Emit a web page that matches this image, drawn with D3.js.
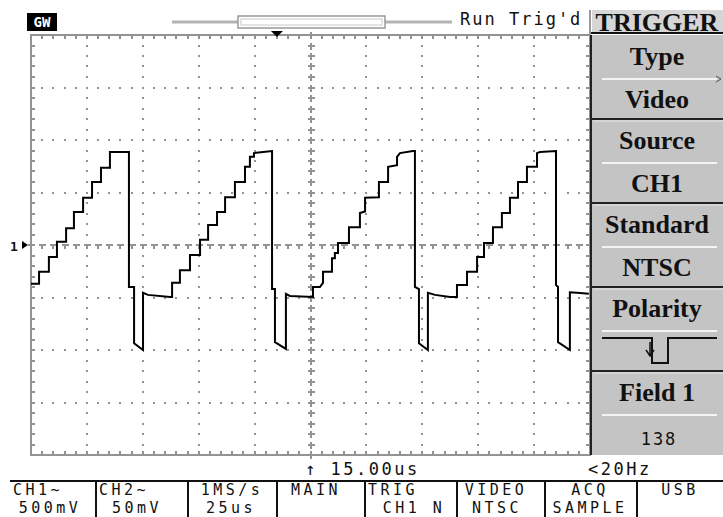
<!DOCTYPE html>
<html>
<head>
<meta charset="utf-8">
<script src="https://cdn.jsdelivr.net/npm/d3@7"></script>
<style>
  body { margin: 0; background: #fff; }
  svg { display: block; }
  .mono { font-family: 'DejaVu Sans Mono', monospace; fill: #111; }
  .menu { font-family: 'Liberation Serif', serif; font-weight: bold; fill: #111; }
</style>
</head>
<body>
<div id="chart"></div>
<script>

// CH1 trace: time in us (0 = left edge), level in mV
var timeUs = [
  0, 3.6, 3.6, 8.0, 8.0, 11.6, 11.6, 15.7, 15.7, 19.2, 19.2, 23.3, 23.3, 27.3, 27.3, 31.3, 31.3, 35.3, 35.3, 43.8,
  43.8, 46.1, 46.1, 50.1, 50.1, 52.3, 62.2, 63.1,
  63.1, 66.6, 66.6, 71.1, 71.1, 75.6, 75.6, 79.2, 79.2, 83.2, 83.2, 86.8, 86.8, 91.2, 91.2, 95.7, 95.7, 97.9, 97.9, 99.7, 99.7, 103.8, 107.8,
  107.8, 109.1, 109.1, 114.0, 114.0, 115.8, 126.1,
  126.1, 129.2, 130.6, 130.6, 134.6, 134.6, 135.9, 135.9, 137.3, 137.3, 142.2, 142.2, 147.1, 147.1, 149.4, 149.4, 155.6, 155.6, 159.7, 159.7, 163.7, 163.7, 165.0, 170.8, 171.7,
  171.7, 173.5, 173.5, 177.5, 177.5, 180.7, 187.4, 190.5,
  190.5, 195.0, 195.0, 199.5, 199.5, 202.6, 202.6, 206.6, 206.6, 210.6, 210.6, 214.2, 214.2, 217.8, 217.8, 221.8, 221.8, 226.3, 226.3, 227.6, 234.8,
  234.8, 235.7, 235.7, 241.0, 241.0, 244.2, 249.5
];
var ch1mV = [
  -370, -370, -255, -255, -115, -115, 30, 30, 160, 160, 315, 315, 450, 450, 600, 600, 735, 735, 885, 885,
  -400, -400, -935, -1000, -455, -475, -495, -495,
  -360, -360, -240, -240, -95, -95, 50, 50, 190, 190, 315, 315, 455, 455, 600, 600, 745, 745, 840, 840, 875, 885, 895,
  -420, -420, -925, -990, -465, -485, -495,
  -400, -400, -360, -255, -255, -125, -125, -75, -75, 20, 20, 170, 170, 305, 320, 450, 455, 600, 600, 745, 760, 840, 875, 895, 895,
  -400, -420, -935, -1000, -455, -475, -495, -495,
  -380, -380, -255, -255, -115, -115, 20, 20, 170, 170, 305, 305, 450, 450, 600, 600, 745, 745, 875, 885, 895,
  -380, -400, -925, -1000, -450, -455, -465
];

// Screen settings
var usPerDiv = 25, mVPerDiv = 500;
var hDivs = 10, vDivs = 8;
var trigDelayUs = 15;

// Menu and status bar texts
var menuTitles = ['Type', 'Source', 'Standard', 'Polarity', 'Field 1'];
var menuValues = ['Video', 'CH1', 'NTSC', '', '138'];
var statusTop = ['CH1~', 'CH2~', '1MS/s', 'MAIN', 'TRIG', 'VIDEO', 'ACQ', 'USB'];
var statusBottom = ['500mV', '50mV', '25us', '', 'CH1 N', 'NTSC', 'SAMPLE', ''];

var width = 723, height = 517;
var plot = {left: 31, right: 590, top: 35, bottom: 455};

// Define scales
var xScale = d3.scaleLinear().domain([0, hDivs * usPerDiv]).range([plot.left, plot.right]);
var yScale = d3.scaleLinear().domain([-vDivs / 2 * mVPerDiv, vDivs / 2 * mVPerDiv]).range([plot.bottom, plot.top]);

var svg = d3.select('#chart').append('svg')
    .attr('width', width)
    .attr('height', height);

var gridColor = '#939393';
var tMax = hDivs * usPerDiv, vMax = vDivs / 2 * mVPerDiv, tMid = tMax / 2;

// Major and minor (1/5 div) positions
var divT = d3.range(0, tMax + 0.01, usPerDiv);
var divV = d3.range(-vMax, vMax + 0.01, mVPerDiv);
var minorT = d3.range(0, tMax + 0.01, usPerDiv / 5);
var minorV = d3.range(-vMax, vMax + 0.01, mVPerDiv / 5);

var grid = svg.append('g').attr('class', 'grid');

// Dotted division lines
var dots = d3.cross(divT.filter(function(t) { return t > 0 && t < tMax && t !== tMid; }), minorV)
  .concat(d3.cross(minorT, divV.filter(function(v) { return v > -vMax && v < vMax && v !== 0; })));
grid.selectAll('rect.dot')
    .data(dots)
    .join('rect')
    .attr('class', 'dot')
    .attr('x', function(d) { return Math.round(xScale(d[0])) - 1; })
    .attr('y', function(d) { return Math.round(yScale(d[1])) - 1; })
    .attr('width', 2)
    .attr('height', 2)
    .attr('fill', gridColor);

// Centre vertical: row of crosses
var cx = Math.round(xScale(tMid));
minorV.forEach(function(v) {
  var y = Math.round(yScale(v));
  grid.append('line').attr('x1', cx - 3).attr('x2', cx + 4).attr('y1', y).attr('y2', y)
      .attr('stroke', gridColor).attr('stroke-width', 2);
  grid.append('line').attr('x1', cx).attr('x2', cx).attr('y1', y - 3).attr('y2', y + 4)
      .attr('stroke', gridColor).attr('stroke-width', 2);
});

// Centre horizontal: dashes with small ticks
var cy = Math.round(yScale(0));
minorT.forEach(function(t) {
  var x = Math.round(xScale(t));
  grid.append('line').attr('x1', x - 3).attr('x2', x + 4).attr('y1', cy).attr('y2', cy)
      .attr('stroke', gridColor).attr('stroke-width', 2);
  grid.append('line').attr('x1', x).attr('x2', x).attr('y1', cy).attr('y2', cy + 4)
      .attr('stroke', gridColor).attr('stroke-width', 2);
});

// Border and its ticks
grid.append('rect')
    .attr('x', plot.left).attr('y', plot.top)
    .attr('width', plot.right - plot.left).attr('height', plot.bottom - plot.top)
    .attr('fill', 'none').attr('stroke', gridColor).attr('stroke-width', 2);

minorT.forEach(function(t) {
  var x = Math.round(xScale(t));
  grid.append('line').attr('x1', x).attr('x2', x).attr('y1', plot.top).attr('y2', plot.top + 4)
      .attr('stroke', gridColor).attr('stroke-width', 2);
  grid.append('line').attr('x1', x).attr('x2', x).attr('y1', plot.bottom - 4).attr('y2', plot.bottom)
      .attr('stroke', gridColor).attr('stroke-width', 2);
});
minorV.forEach(function(v) {
  var y = Math.round(yScale(v));
  grid.append('line').attr('x1', plot.left).attr('x2', plot.left + 4).attr('y1', y).attr('y2', y)
      .attr('stroke', gridColor).attr('stroke-width', 2);
  grid.append('line').attr('x1', plot.right - 4).attr('x2', plot.right).attr('y1', y).attr('y2', y)
      .attr('stroke', gridColor).attr('stroke-width', 2);
});

// Draw the trace
var points = timeUs.map(function(t, i) { return [t, ch1mV[i]]; });
var line = d3.line()
    .x(function(d) { return xScale(d[0]); })
    .y(function(d) { return yScale(d[1]); });

svg.append('path')
    .datum(points)
    .attr('d', line)
    .attr('fill', 'none')
    .attr('stroke', '#000')
    .attr('stroke-width', 2);

// CH1 ground marker
svg.append('text').attr('class', 'mono')
    .attr('x', 10).attr('y', yScale(0) + 6)
    .style('font-size', '13px').style('font-weight', 'bold')
    .text('1');
svg.append('path')
    .attr('d', 'M22,' + (cy - 4) + 'L28,' + cy + 'L22,' + (cy + 4) + 'Z')
    .attr('fill', '#000');

// Top bar: logo, memory bar, trigger marker, status
svg.append('rect').attr('x', 27).attr('y', 13).attr('width', 30).attr('height', 18).attr('fill', '#000');
svg.append('text').attr('class', 'mono')
    .attr('x', 42).attr('y', 27).attr('text-anchor', 'middle')
    .style('font-size', '14px').style('font-weight', 'bold').style('fill', '#fff')
    .text('GW');

svg.append('line').attr('x1', 172).attr('x2', 452).attr('y1', 22).attr('y2', 22)
    .attr('stroke', '#b4b4b4').attr('stroke-width', 3);
svg.append('rect').attr('x', 238).attr('y', 16).attr('width', 147).attr('height', 12)
    .attr('fill', '#fff').attr('stroke', '#999').attr('stroke-width', 1.5);
svg.append('rect').attr('x', 241).attr('y', 19).attr('width', 141).attr('height', 6)
    .attr('fill', 'none').attr('stroke', '#c8c8c8').attr('stroke-width', 1);

var tx = xScale(tMid - trigDelayUs);
svg.append('path')
    .attr('d', 'M' + (tx - 6) + ',31L' + (tx + 6) + ',31L' + tx + ',37Z')
    .attr('fill', '#000');

svg.append('text').attr('class', 'mono')
    .attr('x', 460).attr('y', 25)
    .style('font-size', '17px').style('letter-spacing', '2px')
    .text("Run Trig'd");

// Side menu
var menuX = 591, menuW = width - menuX;
svg.append('line').attr('x1', 590).attr('x2', 590).attr('y1', 10).attr('y2', plot.top)
    .attr('stroke', '#999').attr('stroke-width', 2);
svg.append('rect').attr('x', menuX + 1).attr('y', 10).attr('width', menuW).attr('height', 23).attr('fill', '#d6d6d6');
svg.append('line').attr('x1', menuX).attr('x2', width).attr('y1', 33).attr('y2', 33)
    .attr('stroke', '#111').attr('stroke-width', 2);
svg.append('text').attr('class', 'menu')
    .attr('x', menuX + menuW / 2).attr('y', 31).attr('text-anchor', 'middle')
    .style('font-size', '26px')
    .text('TRIGGER');

svg.append('rect').attr('x', menuX).attr('y', plot.top).attr('width', menuW).attr('height', plot.bottom - plot.top)
    .attr('fill', '#c4c4c4');
svg.append('line').attr('x1', menuX).attr('x2', menuX).attr('y1', plot.top).attr('y2', plot.bottom)
    .attr('stroke', '#222').attr('stroke-width', 2);

var boxH = (plot.bottom - plot.top) / menuTitles.length;
menuTitles.forEach(function(title, i) {
  var top = plot.top + i * boxH;
  if (i > 0) {
    svg.append('line').attr('x1', menuX).attr('x2', width).attr('y1', top).attr('y2', top)
        .attr('stroke', '#222').attr('stroke-width', 2);
    svg.append('line').attr('x1', menuX + 2).attr('x2', width).attr('y1', top + 2).attr('y2', top + 2)
        .attr('stroke', '#e4e4e4').attr('stroke-width', 1);
  }
  svg.append('line').attr('x1', 602).attr('x2', 717).attr('y1', top + 44).attr('y2', top + 44)
      .attr('stroke', '#f4f4f4').attr('stroke-width', 2);
  svg.append('text').attr('class', 'menu')
      .attr('x', menuX + menuW / 2).attr('y', top + 30).attr('text-anchor', 'middle')
      .style('font-size', '26px')
      .text(title);
  if (menuValues[i] === '138') {
    svg.append('text').attr('class', 'mono')
        .attr('x', menuX + menuW / 2 + 2).attr('y', top + 74).attr('text-anchor', 'middle')
        .style('font-size', '17px').style('letter-spacing', '2px')
        .text(menuValues[i]);
  } else if (menuValues[i]) {
    svg.append('text').attr('class', 'menu')
        .attr('x', menuX + menuW / 2).attr('y', top + 73).attr('text-anchor', 'middle')
        .style('font-size', '26px')
        .text(menuValues[i]);
  } else {
    // Negative polarity symbol
    svg.append('path')
        .attr('d', 'M602,' + (top + 51) + 'H652V' + (top + 76) + 'H668V' + (top + 51) + 'H717')
        .attr('fill', 'none').attr('stroke', '#111').attr('stroke-width', 2);
    svg.append('path')
        .attr('d', 'M650,' + (top + 55) + 'V' + (top + 68) + 'M646,' + (top + 63) + 'L650,' + (top + 69) + 'L654,' + (top + 63))
        .attr('fill', 'none').attr('stroke', '#111').attr('stroke-width', 1.5);
  }
});
// submenu arrow on the first box
svg.append('path').attr('d', 'M716,76L721,79L716,82').attr('fill', 'none').attr('stroke', '#555');

// Bottom readouts
svg.append('text').attr('class', 'mono')
    .attr('x', 305).attr('y', 475)
    .style('font-size', '17px').style('letter-spacing', '2.5px')
    .text('\u2191 ' + trigDelayUs.toFixed(2) + 'us');
svg.append('text').attr('class', 'mono')
    .attr('x', 588).attr('y', 475)
    .style('font-size', '17px').style('letter-spacing', '2.5px')
    .text('<20Hz');

var cellEdges = [10, 96, 188, 277, 365, 457, 545, 637, 723];
var topX = [13, 99, 232, 316, 368, 496, 590, 680];
var topAnchor = ['start', 'start', 'middle', 'middle', 'start', 'middle', 'middle', 'middle'];
var bottomX = [50, 137, 231, 0, 414, 497, 590, 0];

svg.append('line').attr('x1', 10).attr('x2', width).attr('y1', 481).attr('y2', 481)
    .attr('stroke', '#111').attr('stroke-width', 2);
cellEdges.slice(1, -1).forEach(function(x) {
  svg.append('line').attr('x1', x).attr('x2', x).attr('y1', 481).attr('y2', height)
      .attr('stroke', '#111').attr('stroke-width', 2);
});
statusTop.forEach(function(label, i) {
  svg.append('text').attr('class', 'mono')
      .attr('x', topX[i]).attr('y', 495).attr('text-anchor', topAnchor[i])
      .style('font-size', '15px').style('letter-spacing', '3.5px')
      .text(label);
  if (statusBottom[i]) {
    svg.append('text').attr('class', 'mono')
        .attr('x', bottomX[i]).attr('y', 513).attr('text-anchor', 'middle')
        .style('font-size', '15px').style('letter-spacing', '3.5px')
        .text(statusBottom[i]);
  }
});

</script>
</body>
</html>
